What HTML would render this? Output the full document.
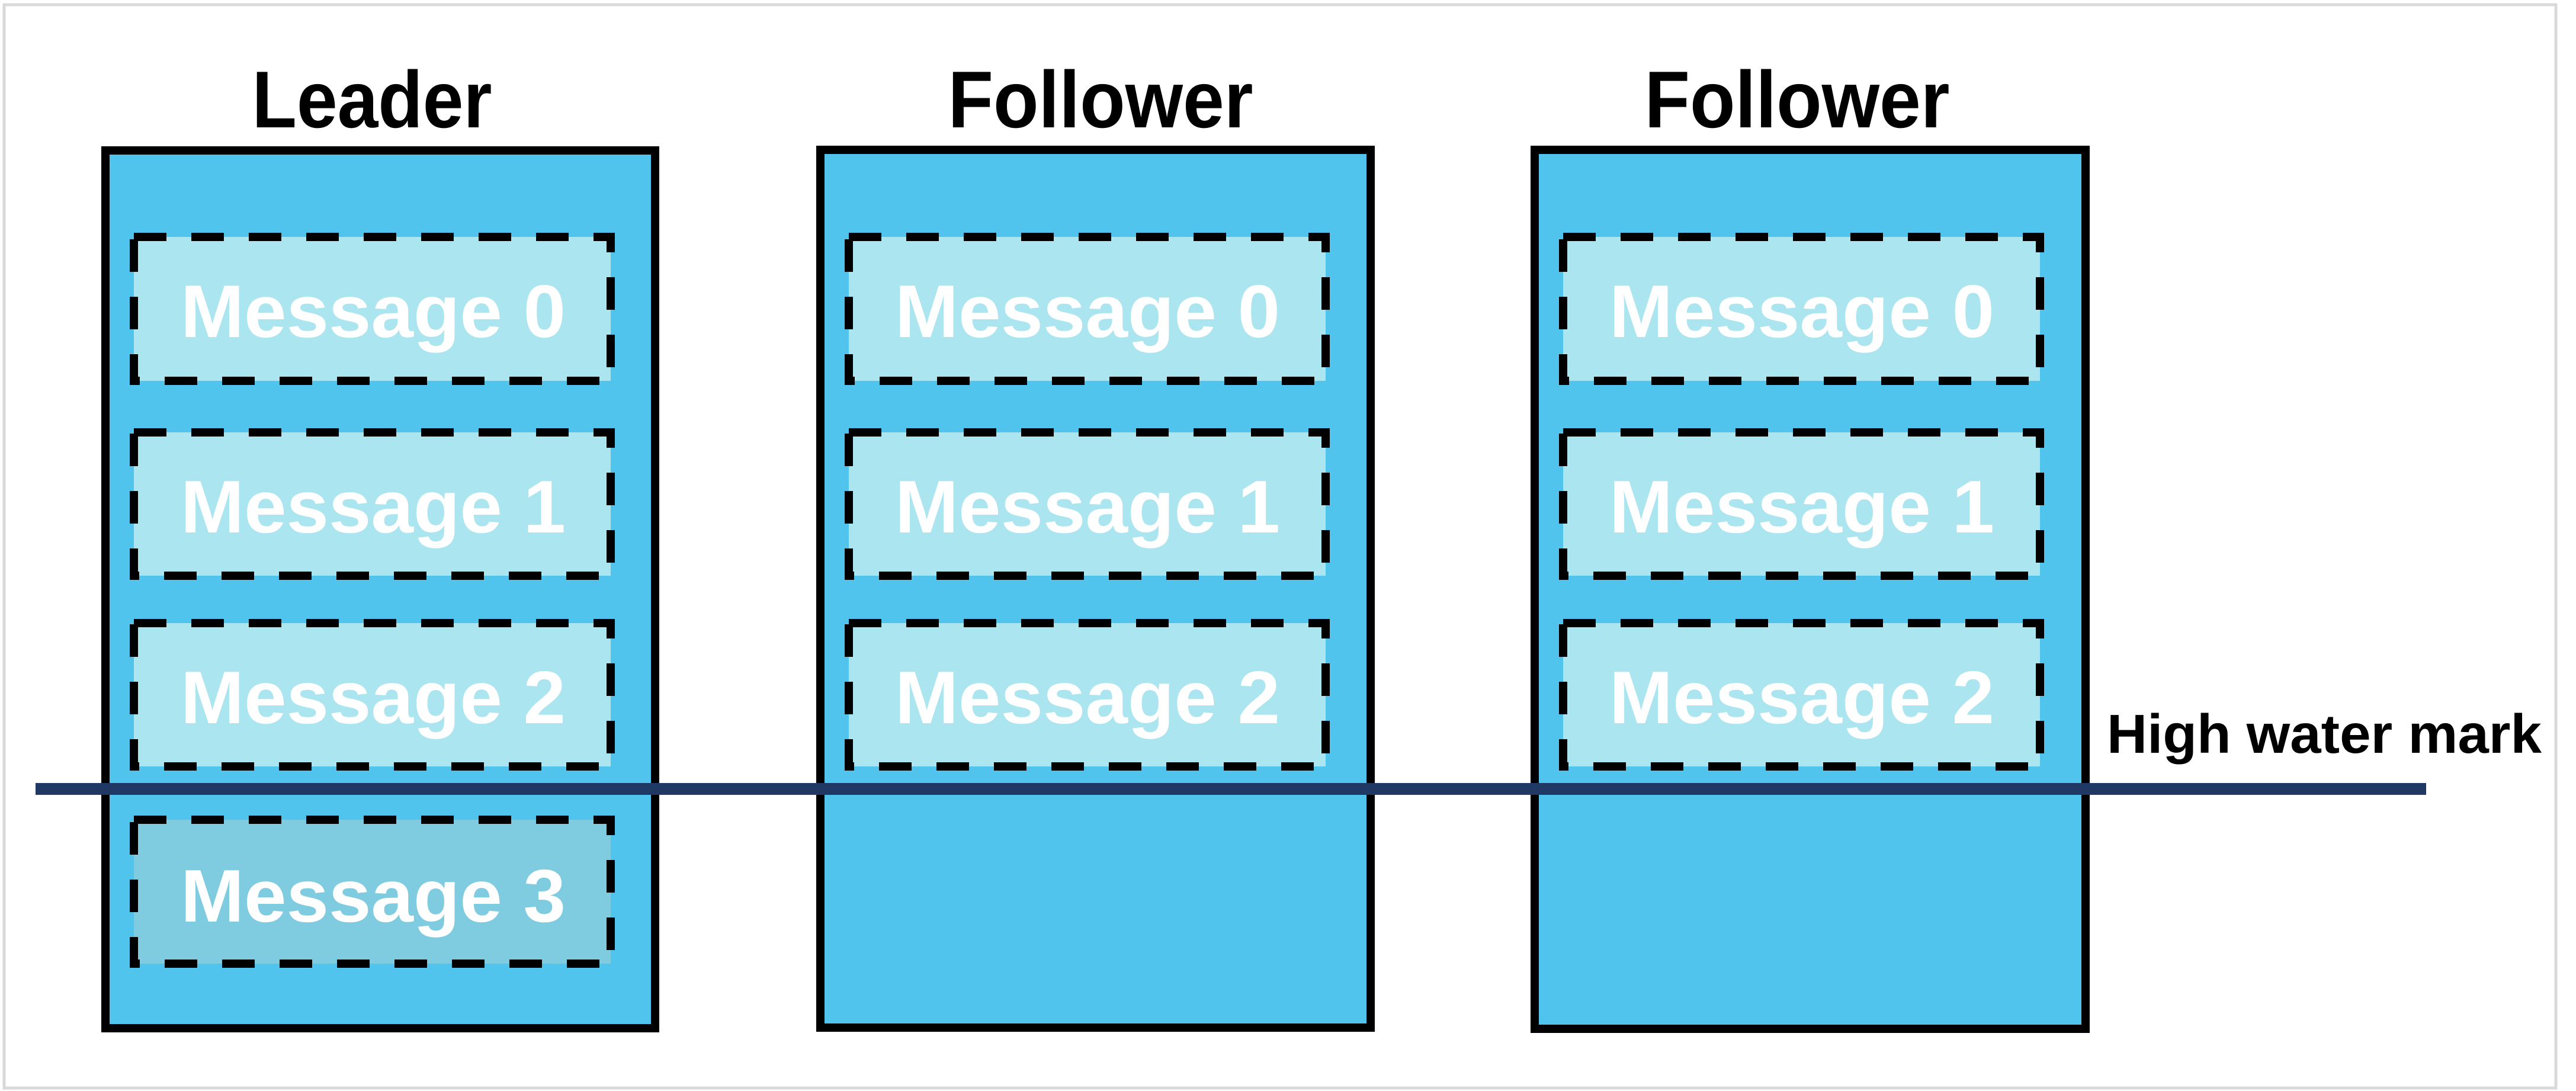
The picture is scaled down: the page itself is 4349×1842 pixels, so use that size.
<!DOCTYPE html>
<html><head><meta charset="utf-8"><style>
html,body{margin:0;padding:0;background:#fff;}
svg{display:block;}
text{font-family:"Liberation Sans",sans-serif;font-weight:bold;}
</style></head><body>
<svg width="4349" height="1842" viewBox="0 0 4349 1842" xmlns="http://www.w3.org/2000/svg">
<rect x="0" y="0" width="4349" height="1842" fill="#fff"/>
<rect x="7" y="8" width="4308" height="1829" fill="none" stroke="#d9d9d9" stroke-width="5"/>

<g id="titles" font-size="136" fill="#000" text-anchor="middle">
<text x="628" y="215" textLength="405" lengthAdjust="spacingAndGlyphs">Leader</text>
<text x="1858" y="215" textLength="515" lengthAdjust="spacingAndGlyphs">Follower</text>
<text x="3034" y="215" textLength="515" lengthAdjust="spacingAndGlyphs">Follower</text>
</g>

<rect x="178" y="254" width="928" height="1482" fill="#51c4ee" stroke="#000" stroke-width="14"/>
<rect x="1385" y="253" width="929" height="1482" fill="#51c4ee" stroke="#000" stroke-width="14"/>
<rect x="2591" y="253" width="930" height="1484" fill="#51c4ee" stroke="#000" stroke-width="14"/>

<g stroke="#000" stroke-width="14" stroke-dasharray="55 42">
<rect x="226" y="400" width="805" height="243" fill="#abe6f0"/>
<rect x="226" y="730" width="805" height="242" fill="#abe6f0"/>
<rect x="226" y="1052" width="805" height="242" fill="#abe6f0"/>
<rect x="226" y="1384" width="805" height="243" fill="#7fcbdf"/>

<rect x="1433" y="400" width="805" height="243" fill="#abe6f0"/>
<rect x="1433" y="730" width="805" height="242" fill="#abe6f0"/>
<rect x="1433" y="1052" width="805" height="242" fill="#abe6f0"/>

<rect x="2639" y="400" width="805" height="243" fill="#abe6f0"/>
<rect x="2639" y="730" width="805" height="242" fill="#abe6f0"/>
<rect x="2639" y="1052" width="805" height="242" fill="#abe6f0"/>
</g>

<g font-size="126" fill="#fff" text-anchor="middle">
<text x="630" y="569" textLength="650" lengthAdjust="spacingAndGlyphs">Message 0</text>
<text x="630" y="899" textLength="650" lengthAdjust="spacingAndGlyphs">Message 1</text>
<text x="630" y="1221" textLength="650" lengthAdjust="spacingAndGlyphs">Message 2</text>
<text x="630" y="1556" textLength="650" lengthAdjust="spacingAndGlyphs">Message 3</text>

<text x="1836" y="569" textLength="650" lengthAdjust="spacingAndGlyphs">Message 0</text>
<text x="1836" y="899" textLength="650" lengthAdjust="spacingAndGlyphs">Message 1</text>
<text x="1836" y="1221" textLength="650" lengthAdjust="spacingAndGlyphs">Message 2</text>

<text x="3042" y="569" textLength="650" lengthAdjust="spacingAndGlyphs">Message 0</text>
<text x="3042" y="899" textLength="650" lengthAdjust="spacingAndGlyphs">Message 1</text>
<text x="3042" y="1221" textLength="650" lengthAdjust="spacingAndGlyphs">Message 2</text>
</g>

<rect x="60" y="1322" width="4036" height="20" fill="#203864"/>

<text x="3557" y="1271" font-size="93" fill="#000" textLength="734" lengthAdjust="spacingAndGlyphs">High water mark</text>
</svg>
</body></html>
